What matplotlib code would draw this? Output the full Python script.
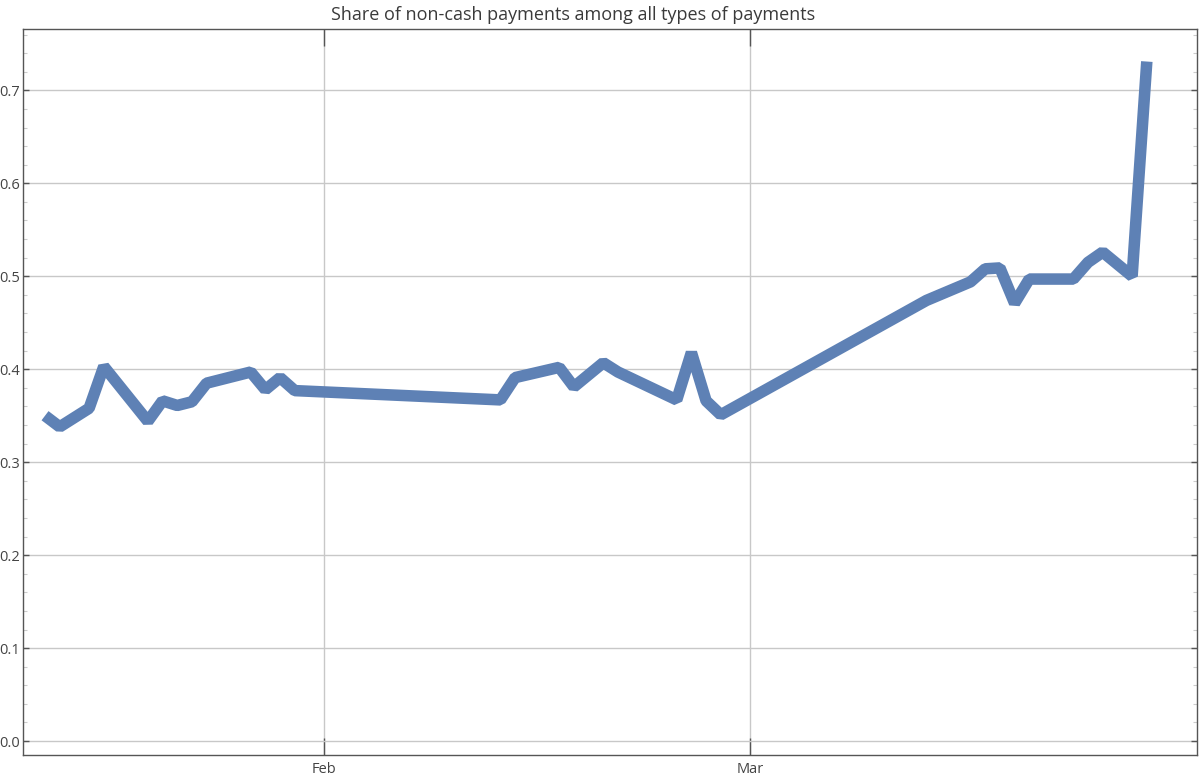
import matplotlib
matplotlib.use('Agg')
import matplotlib.pyplot as plt
import matplotlib.dates as mdates
from matplotlib.ticker import MultipleLocator, FormatStrFormatter
import numpy as np

plt.rcParams['font.family'] = ['Open Sans', 'DejaVu Sans']

dates = ['2020-01-13', '2020-01-14', '2020-01-16', '2020-01-17', '2020-01-20',
         '2020-01-21', '2020-01-22', '2020-01-23', '2020-01-24', '2020-01-27',
         '2020-01-28', '2020-01-29', '2020-01-30', '2020-02-13', '2020-02-14',
         '2020-02-17', '2020-02-18', '2020-02-20', '2020-02-21', '2020-02-25',
         '2020-02-26', '2020-02-27', '2020-02-28', '2020-03-13', '2020-03-16',
         '2020-03-17', '2020-03-18', '2020-03-19', '2020-03-20', '2020-03-23',
         '2020-03-24', '2020-03-25', '2020-03-27', '2020-03-28']
share = [0.350, 0.338, 0.358, 0.403, 0.344,
         0.366, 0.361, 0.365, 0.385, 0.397,
         0.378, 0.391, 0.377, 0.367, 0.391,
         0.402, 0.381, 0.407, 0.397, 0.367,
         0.418, 0.366, 0.351, 0.474, 0.494,
         0.508, 0.509, 0.471, 0.497, 0.497,
         0.515, 0.526, 0.500, 0.731]
title = 'Share of non-cash payments among all types of payments'

x = np.array(dates, dtype='datetime64[D]')

fig = plt.figure(figsize=(12, 7.8), dpi=100)
ax = fig.add_axes([23 / 1200, 25 / 780, 1174 / 1200, 726 / 780])

ax.plot(x, share, color='#5E81B5', lw=8.3, solid_joinstyle='bevel',
        solid_capstyle='butt', zorder=3)

ax.set_xlim(np.datetime64('2020-01-11T12:00'), np.datetime64('2020-03-31T10:00'))
ax.set_ylim(-0.015, 0.766)

ax.xaxis.set_major_locator(mdates.MonthLocator(bymonth=[2, 3]))
ax.xaxis.set_major_formatter(mdates.DateFormatter('%b'))
ax.yaxis.set_major_locator(MultipleLocator(0.1))
ax.yaxis.set_minor_locator(MultipleLocator(0.02))
ax.yaxis.set_major_formatter(FormatStrFormatter('%.1f'))

ax.grid(True, which='major', color='#c8c8c8', lw=1, zorder=0)

for s in ax.spines.values():
    s.set_color('#555555')
    s.set_linewidth(1)

ax.tick_params(axis='x', which='major', direction='in', length=12, width=1,
               color='#555555', top=True, labelsize=10.5, labelcolor='#444444', pad=5)
ax.tick_params(axis='y', which='major', direction='in', length=4, width=1,
               color='#555555', right=True, labelsize=10.5, labelcolor='#444444', pad=2)
ax.tick_params(axis='y', which='minor', direction='in', length=3, width=0.8,
               color='#cccccc', right=True)

fig.text(573 / 1200, 1 - 15 / 780, title, ha='center', va='center',
         fontsize=13, color='#3a3a3a')

fig.savefig('out.png', dpi=100)
